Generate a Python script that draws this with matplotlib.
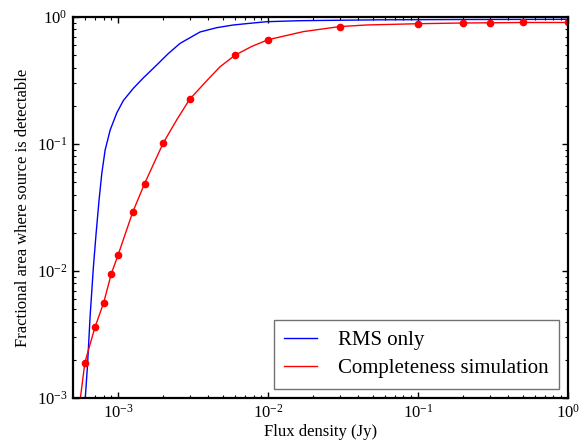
import matplotlib
matplotlib.use("Agg")
import matplotlib.pyplot as plt
from matplotlib.ticker import LogLocator, NullFormatter

plt.rcParams["font.family"] = ["Liberation Serif", "DejaVu Serif"]
plt.rcParams["mathtext.fontset"] = "custom"
plt.rcParams["mathtext.rm"] = "Liberation Serif"
plt.rcParams["mathtext.it"] = "Liberation Serif:italic"

# RMS-only detectable fraction
rms_flux = [6.0e-4, 6.24e-4, 6.5e-4, 6.84e-4, 7.13e-4, 7.46e-4, 7.78e-4, 8.19e-4,
            8.85e-4, 9.8e-4, 1.084e-3, 1.265e-3, 1.475e-3, 1.81e-3, 2.16e-3,
            2.59e-3, 3.52e-3, 4.55e-3, 5.87e-3, 7.59e-3, 9.8e-3, 1.63e-2,
            5.6e-2, 0.2, 1.0]
rms_frac = [9e-4, 1.77e-3, 4.37e-3, 0.0108, 0.0198, 0.0362, 0.0587, 0.0897,
            0.129, 0.176, 0.22, 0.275, 0.332, 0.419, 0.515,
            0.62, 0.762, 0.824, 0.865, 0.892, 0.918, 0.935,
            0.95, 0.955, 0.958]

# completeness simulation points
sim_flux = [6e-4, 7e-4, 8e-4, 9e-4, 1e-3, 1.25e-3, 1.5e-3, 2e-3, 3e-3, 6e-3,
            1e-2, 3e-2, 0.1, 0.2, 0.3, 0.5, 1.0]
sim_frac = [0.0019, 0.0036, 0.0056, 0.0095, 0.0134, 0.029, 0.0487, 0.102, 0.225,
            0.499, 0.662, 0.84, 0.885, 0.897, 0.90, 0.905, 0.905]

# smooth fit through the simulation
fit_flux = [5.6e-4, 6e-4, 7e-4, 8e-4, 9e-4, 1e-3, 1.25e-3, 1.5e-3, 2e-3, 2.46e-3,
            3e-3, 3.9e-3, 4.79e-3, 6e-3, 7.75e-3, 1e-2, 1.72e-2, 3e-2, 4.55e-2,
            0.1, 0.2, 0.3, 0.5, 1.0]
fit_frac = [1e-3, 0.0019, 0.0036, 0.0056, 0.0095, 0.0134, 0.029, 0.0487, 0.102,
            0.155, 0.225, 0.315, 0.406, 0.499, 0.585, 0.662, 0.767, 0.84, 0.865,
            0.885, 0.897, 0.90, 0.905, 0.905]

fig = plt.figure(figsize=(5.85, 4.41), dpi=100)
ax = fig.add_axes([0.1248, 0.0975, 0.846, 0.864])

ax.plot(rms_flux, rms_frac, color="b", lw=1, label="RMS only")
ax.plot(fit_flux, fit_frac, color="r", lw=1, label="Completeness simulation")
ax.plot(sim_flux, sim_frac, "o", color="r", ms=4.5, mec="r")

ax.set_xscale("log")
ax.set_yscale("log")
ax.set_xlim(5e-4, 1)
ax.set_ylim(1e-3, 1)

for spine in ax.spines.values():
    spine.set_linewidth(1.6)

ax.tick_params(which="both", direction="in", top=True, right=True)
ax.tick_params(which="major", length=4, width=1, labelsize=12, pad=4)
ax.tick_params(which="minor", length=2.2, width=0.8)
ax.xaxis.set_minor_locator(LogLocator(base=10, subs=range(2, 10), numticks=20))
ax.yaxis.set_minor_locator(LogLocator(base=10, subs=range(2, 10), numticks=20))
ax.xaxis.set_minor_formatter(NullFormatter())
ax.yaxis.set_minor_formatter(NullFormatter())

ax.set_xlabel("Flux density (Jy)", fontsize=12, labelpad=1.5)
ax.set_ylabel("Fractional area where source is detectable", fontsize=12, labelpad=4)

leg = ax.legend(loc="lower right", fontsize=15, fancybox=False, frameon=True,
                handlelength=1.55, borderpad=0.5, labelspacing=0.4,
                handletextpad=1.0, borderaxespad=0.45)
leg.get_frame().set_edgecolor("0.3")
leg.get_frame().set_linewidth(1.0)

fig.savefig("out.png", dpi=100)
